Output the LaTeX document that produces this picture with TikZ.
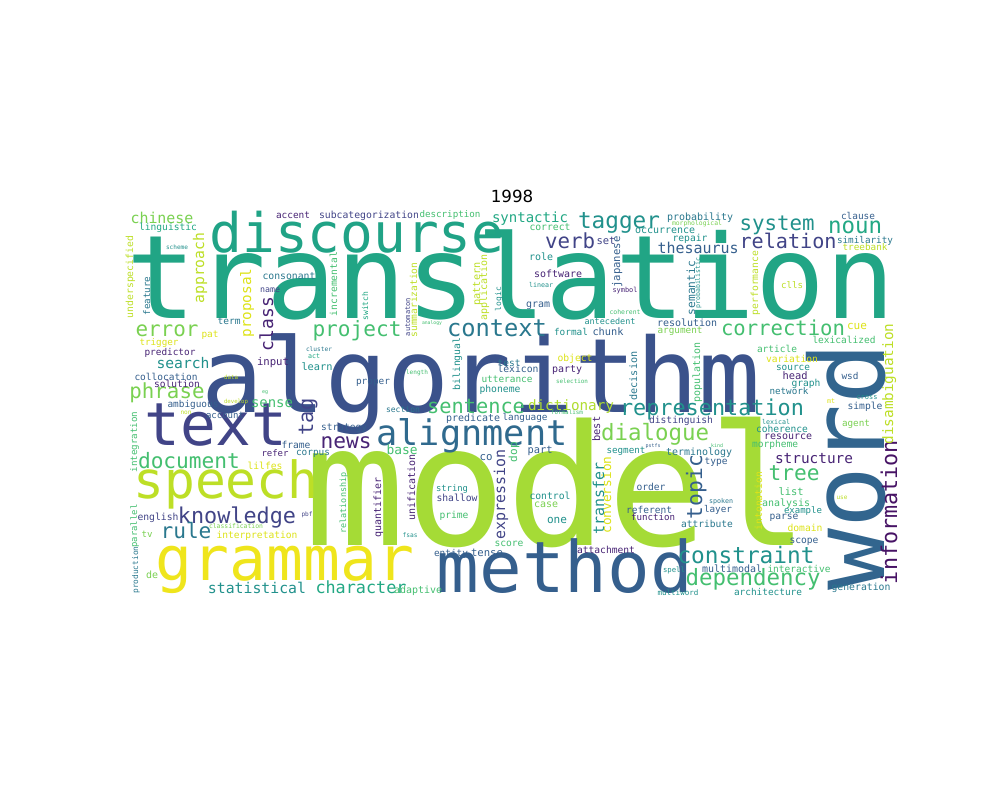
\documentclass[tikz,border=0pt]{standalone}
\usepackage{fontspec}
\usepackage{graphicx}
\setmainfont{DejaVu Sans}
\newfontfamily\wcf{DejaVu Sans Mono}
\definecolor{vA}{HTML}{440154}
\definecolor{vB}{HTML}{482475}
\definecolor{vC}{HTML}{414487}
\definecolor{vD}{HTML}{355F8D}
\definecolor{vE}{HTML}{2A788E}
\definecolor{vF}{HTML}{21918C}
\definecolor{vG}{HTML}{22A884}
\definecolor{vH}{HTML}{44BF70}
\definecolor{vI}{HTML}{7AD151}
\definecolor{vJ}{HTML}{BDDF26}
\definecolor{vY}{HTML}{DDE318}
\definecolor{vK}{HTML}{EFE51C}
\definecolor{cTrans}{HTML}{21A585}
\definecolor{cDisc}{HTML}{20A386}
\definecolor{cModel}{HTML}{A5DB36}
\definecolor{cAlg}{HTML}{3B528B}
\definecolor{cWord}{HTML}{32658E}
\definecolor{cInfo}{HTML}{471365}
\definecolor{cAlign}{HTML}{306A8E}
\definecolor{cDict}{HTML}{B0DD2F}
\tikzset{wd/.style={inner sep=0pt,outer sep=0pt,anchor=base,font=\wcf},
  wv/.style={wd,rotate=90},
  ttl/.style={anchor=base,inner sep=0pt,font=\fontsize{16.7}{20}\selectfont}}
\newcommand\WH[6]{\node[wd,text=#5] (#1) at (#2,#3) {\resizebox{#4pt}{!}{#6}};}
\newcommand\WV[6]{\node[wv,text=#5] (#1) at (#2,#3) {\resizebox{#4pt}{!}{#6}};}
\begin{document}
\begin{tikzpicture}[x=1pt,y=-1pt]
\fill[white] (0,0) rectangle (1000,800);
\path[use as bounding box] (0,0) rectangle (1000,800);
\node[ttl] (title) at (512,202) {1998};
% big words
\WH{translation}{511}{318}{768}{cTrans}{translation}
\WH{algorithm}{481}{412}{558}{cAlg}{algorithm}
\WH{model}{557}{545}{505}{cModel}{model}
\WV{word}{884}{466}{248}{cWord}{word}
\WH{discourse}{357}{252}{295}{cDisc}{discourse}
\WH{text}{216}{445}{143}{vC}{text}
\WH{speech}{226}{498}{185}{vJ}{speech}
\WH{grammar}{285}{580}{258}{vK}{grammar}
\WH{method}{565}{592}{256}{vD}{method}
\WH{knowledge}{237}{523}{118}{vC}{knowledge}
\WH{alignment}{472}{445}{191}{cAlign}{alignment}
\WH{representation}{712}{415}{184}{vF}{representation}
\WH{sentence}{476}{413}{98}{vH}{sentence}
\WH{dictionary}{571}{410}{86}{cDict}{dictionary}
\WH{context}{497}{336}{100}{vE}{context}
\WH{correction}{783}{335}{124}{vH}{correction}
\WH{dialogue}{655}{440}{108}{vI}{dialogue}
\WH{constraint}{746}{563}{137}{vF}{constraint}
\WH{dependency}{753}{585}{135}{vH}{dependency}
\WV{information}{897}{512}{144}{cInfo}{information}
\WH{tagger}{619}{228}{82}{vF}{tagger}
\WH{system}{777}{230}{75}{vF}{system}
\WH{noun}{855}{233}{54}{vG}{noun}
\WH{relation}{788}{248}{97}{vC}{relation}
\WH{verb}{570}{248}{50}{vC}{verb}
\WH{thesaurus}{698}{253}{81}{vD}{thesaurus}
\WH{project}{357}{336}{89}{vH}{project}
\WH{error}{167}{336}{63}{vI}{error}
\WH{phrase}{167}{398}{75}{vI}{phrase}
\WH{search}{183}{368}{53}{vF}{search}
\WH{document}{189}{468}{102}{vH}{document}
\WH{news}{346}{448}{51}{vB}{news}
\WH{rule}{186}{538}{51}{vE}{rule}
\WH{statistical}{257}{593}{98}{vF}{statistical}
\WH{character}{361}{593}{91}{vG}{character}
\WH{chinese}{162}{223}{63}{vI}{chinese}
\WH{tree}{794}{480}{51}{vH}{tree}
\WH{structure}{814}{463}{78}{vB}{structure}
\WH{list}{791}{495}{25}{vH}{list}
% vertical words
\WV{class}{273}{324}{54}{vB}{class}
\WV{proposal}{251}{303}{69}{vY}{proposal}
\WV{approach}{204}{268}{71}{vJ}{approach}
\WV{tag}{313}{417}{37}{vC}{tag}
\WV{topic}{702}{487}{64}{vD}{topic}
\WV{expression}{505}{494}{90}{vC}{expression}
\WV{transfer}{604}{498}{72}{vF}{transfer}
\WV{disambiguation}{893}{384}{121}{vJ}{disambiguation}
\WV{underspecified}{133}{277}{82}{vJ}{underspecified}
\WV{incremental}{337}{284}{64}{vH}{incremental}
\WV{switch}{368}{306}{29}{vG}{switch}
\WV{feature}{150}{296}{39}{vE}{feature}
\WV{integration}{137}{442}{61}{vH}{integration}
\WV{relationship}{346}{503}{61}{vH}{relationship}
\WV{quantifier}{381}{507}{60}{vB}{quantifier}
\WV{parallel}{137}{526}{43}{vH}{parallel}
\WV{production}{138}{570}{47}{vE}{production}
\WV{japanese}{620}{262}{51}{vD}{japanese}
\WV{pattern}{480}{284}{43}{vJ}{pattern}
\WV{application}{487}{287}{66}{vJ}{application}
\WV{automaton}{410}{317}{38}{vC}{automaton}
\WV{summarization}{417}{300}{75}{vJ}{summarization}
\WV{logic}{501}{299}{24}{vF}{logic}
\WV{bilingual}{460}{364}{53}{vF}{bilingual}
\WV{decision}{637}{376}{49}{vE}{decision}
\WV{best}{600}{429}{25}{vB}{best}
\WV{dop}{517}{452}{20}{vH}{dop}
\WV{conversion}{611}{495}{77}{vY}{conversion}
\WV{unification}{415}{487}{66}{vB}{unification}
\WV{probabilistic}{700}{283}{51}{vF}{probabilistic}
\WV{semantic}{695}{288}{54}{vE}{semantic}
\WV{performance}{758}{283}{64}{vJ}{performance}
\WV{population}{700}{372}{60}{vH}{population}
\WV{intonation}{762}{501}{59}{vY}{intonation}
% small horizontal words
\WH{linguistic}{168}{230}{58}{vG}{linguistic}
\WH{accent}{293}{218}{34}{vB}{accent}
\WH{subcategorization}{369}{218}{100}{vC}{subcategorization}
\WH{description}{450}{217}{61}{vH}{description}
\WH{syntactic}{530}{222}{76}{vG}{syntactic}
\WH{correct}{550}{230}{41}{vH}{correct}
\WH{set}{606}{244}{19}{vC}{set}
\WH{role}{541}{260}{24}{vF}{role}
\WH{software}{558}{277}{48}{vB}{software}
\WH{linear}{541}{287}{24}{vF}{linear}
\WH{gram}{538}{307}{24}{vD}{gram}
\WH{coherent}{625}{314}{31}{vH}{coherent}
\WH{symbol}{625}{292}{25}{vB}{symbol}
\WH{analogy}{432}{324}{20}{vH}{analogy}
\WH{antecedent}{610}{324}{51}{vF}{antecedent}
\WH{formal}{571}{335}{34}{vF}{formal}
\WH{chunk}{608}{335}{31}{vD}{chunk}
\WH{test}{509}{366}{23}{vE}{test}
\WH{lexicon}{518}{372}{41}{vD}{lexicon}
\WH{object}{575}{361}{35}{vY}{object}
\WH{party}{567}{372}{30}{vB}{party}
\WH{utterance}{507}{382}{51}{vH}{utterance}
\WH{phoneme}{500}{392}{41}{vF}{phoneme}
\WH{selection}{572}{383}{32}{vH}{selection}
\WH{length}{417}{374}{22}{vH}{length}
\WH{scheme}{177}{249}{22}{vF}{scheme}
\WH{consonant}{289}{279}{53}{vE}{consonant}
\WH{name}{270}{292}{20}{vC}{name}
\WH{term}{229}{324}{23}{vE}{term}
\WH{pat}{210}{337}{17}{vY}{pat}
\WH{trigger}{159}{345}{39}{vY}{trigger}
\WH{predictor}{170}{355}{51}{vB}{predictor}
\WH{input}{273}{365}{32}{vB}{input}
\WH{cluster}{319}{351}{26}{vE}{cluster}
\WH{act}{314}{358}{12}{vG}{act}
\WH{learn}{317}{370}{31}{vF}{learn}
\WH{collocation}{166}{380}{63}{vD}{collocation}
\WH{solution}{177}{387}{46}{vB}{solution}
\WH{data}{231}{379}{14}{vJ}{data}
\WH{proper}{373}{384}{34}{vD}{proper}
\WH{eg}{265}{393}{6}{vH}{eg}
\WH{develop}{236}{403}{24}{vJ}{develop}
\WH{ambiguous}{193}{407}{51}{vD}{ambiguous}
\WH{sense}{272}{407}{42}{vH}{sense}
\WH{non}{186}{414}{11}{vJ}{non}
\WH{account}{225}{418}{38}{vD}{account}
\WH{strategy}{344}{430}{46}{vD}{strategy}
\WH{frame}{296}{448}{29}{vD}{frame}
\WH{refer}{275}{456}{27}{vB}{refer}
\WH{corpus}{313}{455}{34}{vE}{corpus}
\WH{lilfes}{265}{469}{35}{vY}{lilfes}
\WH{english}{158}{520}{41}{vC}{english}
\WH{pbf}{307}{516}{11}{vC}{pbf}
\WH{classification}{236}{528}{54}{vI}{classification}
\WH{tv}{147}{537}{11}{vI}{tv}
\WH{interpretation}{257}{538}{81}{vY}{interpretation}
\WH{de}{152}{578}{12}{vI}{de}
\WH{section}{403}{412}{34}{vE}{section}
\WH{predicate}{473}{421}{54}{vD}{predicate}
\WH{language}{525}{420}{45}{vD}{language}
\WH{formalism}{567}{414}{32}{vH}{formalism}
\WH{base}{402}{454}{31}{vH}{base}
\WH{part}{540}{453}{25}{vD}{part}
\WH{segment}{626}{453}{39}{vF}{segment}
\WH{co}{486}{460}{13}{vD}{co}
\WH{string}{452}{491}{32}{vF}{string}
\WH{shallow}{457}{501}{41}{vC}{shallow}
\WH{control}{550}{499}{41}{vF}{control}
\WH{case}{546}{507}{24}{vI}{case}
\WH{prime}{454}{518}{29}{vH}{prime}
\WH{one}{557}{523}{20}{vF}{one}
\WH{fsas}{410}{537}{15}{vF}{fsas}
\WH{score}{509}{546}{29}{vH}{score}
\WH{entity}{451}{556}{34}{vD}{entity}
\WH{tense}{487}{556}{32}{vD}{tense}
\WH{attachment}{606}{553}{58}{vB}{attachment}
\WH{adaptive}{418}{593}{48}{vH}{adaptive}
\WH{probability}{700}{220}{66}{vE}{probability}
\WH{morphological}{697}{225}{50}{vI}{morphological}
\WH{clause}{858}{219}{34}{vD}{clause}
\WH{occurrence}{665}{233}{60}{vF}{occurrence}
\WH{repair}{690}{241}{35}{vF}{repair}
\WH{similarity}{865}{243}{56}{vE}{similarity}
\WH{treebank}{865}{250}{45}{vJ}{treebank}
\WH{clls}{792}{288}{22}{vJ}{clls}
\WH{resolution}{687}{326}{60}{vD}{resolution}
\WH{argument}{680}{333}{45}{vI}{argument}
\WH{cue}{857}{329}{20}{vY}{cue}
\WH{lexicalized}{844}{343}{63}{vH}{lexicalized}
\WH{article}{777}{352}{40}{vH}{article}
\WH{variation}{792}{362}{52}{vY}{variation}
\WH{source}{793}{370}{34}{vF}{source}
\WH{head}{795}{379}{25}{vB}{head}
\WH{wsd}{850}{379}{17}{vD}{wsd}
\WH{graph}{806}{386}{29}{vF}{graph}
\WH{network}{789}{394}{39}{vE}{network}
\WH{mt}{831}{403}{8}{vY}{mt}
\WH{cross}{867}{399}{21}{vF}{cross}
\WH{simple}{865}{409}{35}{vD}{simple}
\WH{agent}{856}{426}{28}{vI}{agent}
\WH{distinguish}{681}{423}{64}{vC}{distinguish}
\WH{lexical}{776}{424}{28}{vF}{lexical}
\WH{coherence}{782}{432}{52}{vF}{coherence}
\WH{resource}{788}{439}{48}{vB}{resource}
\WH{morpheme}{775}{447}{46}{vH}{morpheme}
\WH{pstfs}{653}{447}{15}{vD}{pstfs}
\WH{kind}{717}{447}{12}{vH}{kind}
\WH{terminology}{699}{455}{66}{vE}{terminology}
\WH{type}{716}{464}{23}{vD}{type}
\WH{order}{651}{490}{29}{vD}{order}
\WH{referent}{649}{513}{46}{vD}{referent}
\WH{function}{653}{520}{44}{vB}{function}
\WH{layer}{718}{512}{28}{vD}{layer}
\WH{spoken}{721}{503}{24}{vE}{spoken}
\WH{use}{842}{499}{11}{vJ}{use}
\WH{analysis}{786}{506}{48}{vH}{analysis}
\WH{example}{803}{513}{38}{vF}{example}
\WH{parse}{784}{519}{29}{vD}{parse}
\WH{attribute}{707}{527}{52}{vE}{attribute}
\WH{domain}{805}{531}{35}{vY}{domain}
\WH{scope}{804}{543}{29}{vD}{scope}
\WH{spell}{674}{572}{22}{vF}{spell}
\WH{multimodal}{732}{572}{60}{vD}{multimodal}
\WH{interactive}{799}{572}{63}{vH}{interactive}
\WH{generation}{861}{590}{59}{vE}{generation}
\WH{multiword}{678}{595}{41}{vF}{multiword}
\WH{architecture}{768}{595}{68}{vF}{architecture}
\end{tikzpicture}
\end{document}
